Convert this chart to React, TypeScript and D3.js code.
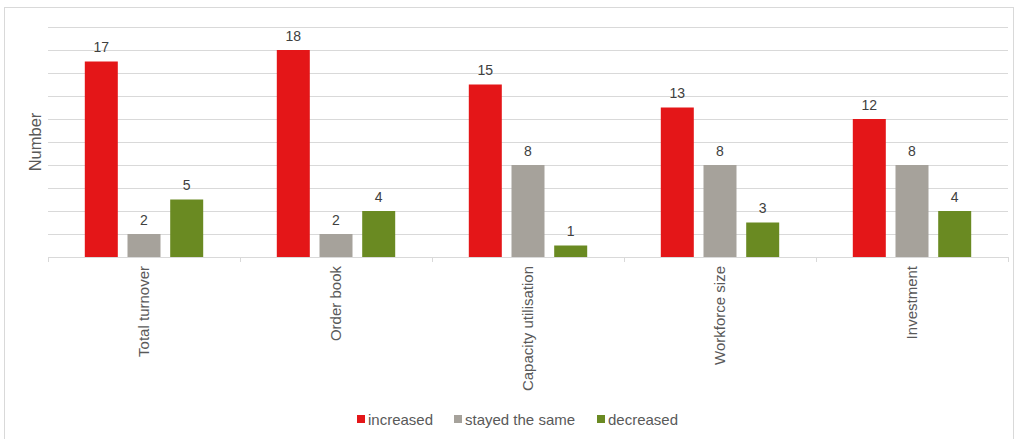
import React from "react";
import * as d3 from "d3";

const categories = ["Total turnover", "Order book", "Capacity utilisation", "Workforce size", "Investment"];
const seriesNames = ["increased", "stayed the same", "decreased"];
const increased = [17, 18, 15, 13, 12];
const stayedSame = [2, 2, 8, 8, 8];
const decreased = [5, 4, 1, 3, 4];
const seriesColors = ["#E41618", "#A6A29B", "#6A8A22"];
const gridTicks = [2, 4, 6, 8, 10, 12, 14, 16, 18, 20];

const W = 1017;
const H = 439;
const left = 48;
const right = 1008;
const top = 27;
const bottom = 257;

export default function App() {
  const series = [increased, stayedSame, decreased];
  const x = d3.scaleBand<string>().domain(categories).range([left, right]).padding(0);
  const y = d3.scaleLinear().domain([0, 20]).range([bottom, top]);
  const bw = x.bandwidth();
  const inner = d3
    .scaleBand<string>()
    .domain(seriesNames)
    .range([bw / 2 - 1.5 * 42.7 + 0, bw / 2 + 1.5 * 42.7])
    .paddingInner(9.7 / 42.7)
    .paddingOuter(9.7 / 42.7 / 2);
  const font = "'Liberation Sans', Arial, sans-serif";
  const legendX = [357, 454, 597];
  return (
    <svg width={W} height={H} style={{ position: "absolute", left: 0, top: 0 }} fontFamily={font}>
      <rect x={0} y={0} width={W} height={H} fill="#fff" />
      <rect x={4.5} y={7.5} width={1009} height={440} fill="none" stroke="#d9d9d9" />
      {gridTicks.map((t) => (
        <line key={t} x1={left} x2={right} y1={Math.round(y(t)) + 0.5} y2={Math.round(y(t)) + 0.5} stroke="#d9d9d9" strokeWidth={1} />
      ))}
      <line x1={left} x2={right} y1={bottom + 0.5} y2={bottom + 0.5} stroke="#d9d9d9" />
      {d3.range(categories.length + 1).map((i) => {
        const xx = Math.round(left + i * bw) + 0.5;
        return <line key={i} x1={xx} x2={xx} y1={bottom} y2={bottom + 5} stroke="#d9d9d9" />;
      })}
      {categories.map((c, ci) => (
        <g key={c} transform={`translate(${x(c)},0)`}>
          {series.map((s, si) => {
            const bx = inner(seriesNames[si])!;
            const v = s[ci];
            return (
              <g key={si}>
                <rect x={bx} y={y(v)} width={inner.bandwidth()} height={bottom - y(v)} fill={seriesColors[si]} />
                <text x={bx + inner.bandwidth() / 2} y={y(v) - 9.5} textAnchor="middle" fontSize={14} fill="#404040">
                  {v}
                </text>
              </g>
            );
          })}
          <text
            transform={`translate(${bw / 2 + 5},${266}) rotate(-90)`}
            textAnchor="end"
            fontSize={15}
            fill="#595959"
          >
            {c}
          </text>
        </g>
      ))}
      <text transform={`translate(41,${(top + bottom) / 2}) rotate(-90)`} textAnchor="middle" fontSize={16.5} fill="#595959">
        Number
      </text>
      {seriesNames.map((n, i) => (
        <g key={n}>
          <rect x={legendX[i]} y={415} width={8} height={8} fill={seriesColors[i]} />
          <text x={legendX[i] + 11} y={425} fontSize={15} fill="#595959">
            {n}
          </text>
        </g>
      ))}
    </svg>
  );
}
